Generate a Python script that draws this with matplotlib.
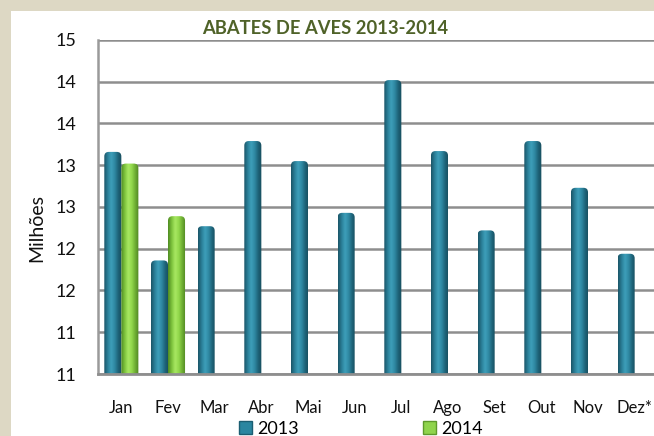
import numpy as np
import matplotlib
matplotlib.use("Agg")
import matplotlib.pyplot as plt
from matplotlib.patches import FancyBboxPatch, Rectangle, Patch
from matplotlib.colors import LinearSegmentedColormap

# ---------------- data ----------------
months = ["Jan", "Fev", "Mar", "Abr", "Mai", "Jun", "Jul", "Ago", "Set", "Out", "Nov", "Dez*"]
values_2013 = [13.16, 11.86, 12.27, 13.29, 13.05, 12.43, 14.02, 13.17, 12.22, 13.29, 12.73, 11.94]
values_2014 = [13.02, 12.39]
y_ticks = [10.5, 11.0, 11.5, 12.0, 12.5, 13.0, 13.5, 14.0, 14.5]
y_tick_labels = ["11", "11", "12", "12", "13", "13", "14", "14", "15"]
series_names = ["2013", "2014"]
title = "ABATES DE AVES 2013-2014"
ylabel = "Milhões"

# ---------------- style ----------------
W, H = 654, 436
FONT = ["Lato", "DejaVu Sans"]
plt.rcParams["font.family"] = FONT
BEIGE = "#DDD8C4"
GRID = "#8E8E8E"
TXT = "#111111"
blue_cmap = LinearSegmentedColormap.from_list(
    "b", ["#1A5466", "#2A7F98", "#3E9FBA", "#2F88A2", "#1E6378", "#164B5B"])
green_cmap = LinearSegmentedColormap.from_list(
    "g", ["#4E8A22", "#7CC23C", "#A8E862", "#92D84C", "#6FAE33", "#4E8522"])

fig = plt.figure(figsize=(W / 100, H / 100), dpi=100)
fig.patch.set_facecolor(BEIGE)
fig.add_artist(Rectangle((11 / W, 0), 1, 1 - 11 / H, transform=fig.transFigure,
                         facecolor="white", edgecolor="none", zorder=0))

left, right, top, bottom = 98, 658, 40, 374
ax = fig.add_axes([left / W, (H - bottom) / H, (right - left) / W, (bottom - top) / H])
ax.set_facecolor("none")

x = np.arange(len(months))
bw = 0.365
ymin, ymax = y_ticks[0], y_ticks[-1]

b13 = ax.bar(x - bw / 2, values_2013, bw, bottom=0, color="none", edgecolor="none", zorder=3)
b14 = ax.bar(x[:len(values_2014)] + bw / 2, values_2014, bw, color="none", edgecolor="none", zorder=3)

grad = np.linspace(0, 1, 64).reshape(1, -1)
px_x = (right - left) / len(months)
px_y = (bottom - top) / (ymax - ymin)
r_px = 4.5
for bars, cmap in ((b13, blue_cmap), (b14, green_cmap)):
    for rect in bars:
        x0 = rect.get_x()
        w = rect.get_width()
        h = rect.get_height()
        clip = FancyBboxPatch((x0, ymin - 1), w, h - ymin + 1,
                              boxstyle=f"round,pad=0,rounding_size={r_px / px_x}",
                              mutation_aspect=px_x / px_y,
                              transform=ax.transData, facecolor="none", edgecolor="none")
        ax.add_patch(clip)
        im = ax.imshow(grad, extent=[x0, x0 + w, ymin - 1, h], aspect="auto",
                       cmap=cmap, interpolation="bicubic", zorder=3)
        im.set_clip_path(clip)

ax.set_xlim(-0.5, len(months) - 0.5)
ax.set_ylim(ymin, ymax)
ax.set_yticks(y_ticks)
ax.set_yticklabels(y_tick_labels)
ax.set_xticks(x)
ax.set_xticklabels(months)
ax.tick_params(axis="y", length=0, pad=15.5, labelsize=13, labelcolor=TXT)
ax.tick_params(axis="x", length=0, pad=18.5, labelsize=12, labelcolor=TXT)
ax.grid(axis="y", color=GRID, lw=1.8, zorder=1)
ax.set_axisbelow(True)
for s in ("top", "right"):
    ax.spines[s].set_visible(False)
ax.spines["left"].set_color("#9A9A9A")
ax.spines["left"].set_linewidth(1.8)
ax.spines["bottom"].set_color(GRID)
ax.spines["bottom"].set_linewidth(2.0)
ax.spines["bottom"].set_zorder(4)

fig.text(325 / W, 1 - 29 / H, title, ha="center", va="center", fontsize=13.2,
         fontweight="bold", color="#4F6228")
fig.text(37 / W, 1 - 228 / H, ylabel, ha="center", va="center", rotation=90,
         fontsize=14, color=TXT)

handles = [Patch(facecolor="#2A86A0", edgecolor="#1B5E72"),
           Patch(facecolor="#8FD44C", edgecolor="#5E9A2C")]
fig.legend(handles, series_names, loc="center", bbox_to_anchor=(361 / W, 1 - 429 / H),
           ncol=2, frameon=False, fontsize=13, handlelength=0.7, handleheight=0.7,
           handletextpad=0.3, columnspacing=6.9, borderpad=0)

fig.savefig("out.png", dpi=100, facecolor=BEIGE)
